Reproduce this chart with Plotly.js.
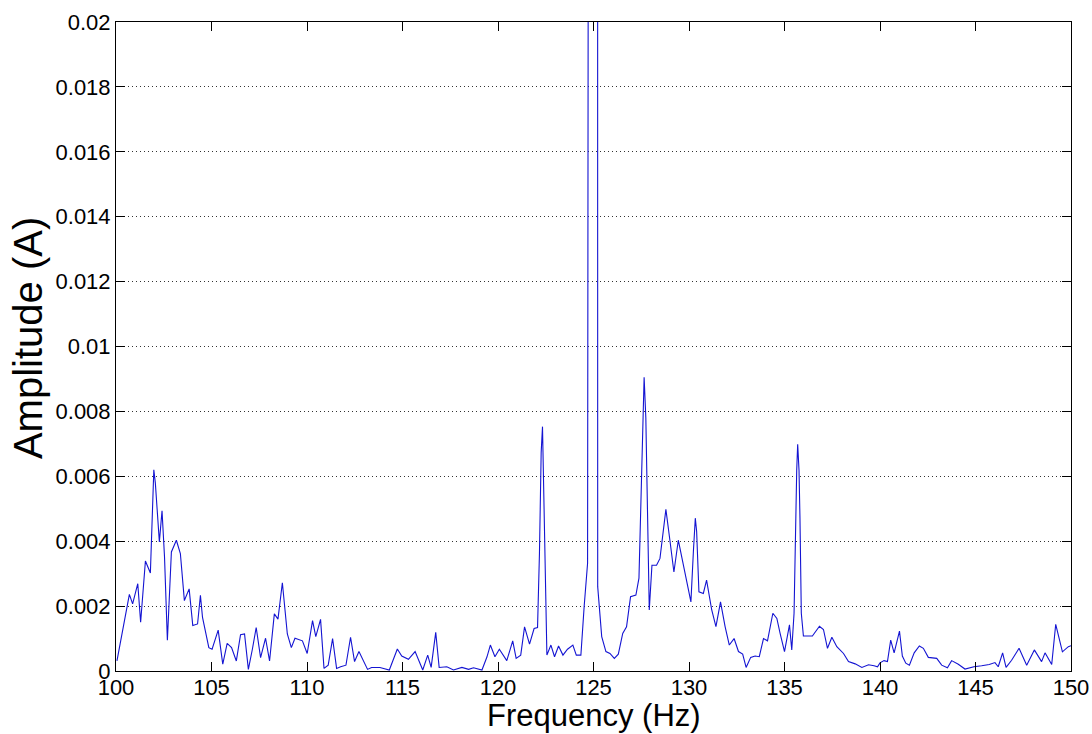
<!DOCTYPE html>
<html>
<head>
<meta charset="utf-8">
<script src="https://cdn.plot.ly/plotly-3.0.1.min.js"></script>
<style>html,body{margin:0;padding:0;background:#fff;}#chart{width:1092px;height:734px;}</style>
</head>
<body>
<div id="chart"></div>
<script>
// Frequency (Hz) of each vertex of the spectrum
const frequency = [
  100.05,100.58,100.70,100.87,101.14,101.29,101.54,101.80,101.98,102.06,
  102.27,102.41,102.54,102.69,102.90,103.16,103.37,103.58,103.83,104.02,
  104.27,104.42,104.53,104.86,105.03,105.35,105.59,105.82,106.05,106.30,
  106.52,106.73,106.93,107.14,107.34,107.57,107.83,108.04,108.29,108.48,
  108.71,108.97,109.18,109.37,109.76,
  110.01,110.29,110.46,110.71,110.89,111.11,111.34,111.55,111.76,112.04,
  112.28,112.49,112.72,113.17,113.38,113.82,114.31,114.73,114.96,115.31,
  115.66,116.06,116.32,116.50,116.74,116.92,117.32,117.67,118.11,118.46,
  118.72,119.16,119.42,119.60,
  119.84,120.07,120.46,120.77,120.95,121.19,121.39,121.65,121.89,122.07,
  122.17,122.26,122.33,122.38,122.47,122.56,122.77,122.96,123.17,123.40,
  123.64,123.92,124.10,124.34,124.51,124.69,124.79,125.21,125.22,125.43,
  125.65,125.86,126.09,126.30,126.53,126.73,126.94,127.22,127.38,127.53,
  127.60,127.65,127.74,127.83,127.92,128.06,128.30,128.48,128.65,128.79,
  129.00,129.21,129.44,
  129.74,130.10,130.23,130.33,130.40,130.52,130.75,130.92,131.19,131.41,
  131.65,131.89,132.11,132.36,132.59,132.81,132.99,133.23,133.46,133.68,
  133.90,134.11,134.39,134.60,134.77,135.00,135.26,135.38,135.50,135.57,
  135.64,135.69,135.76,135.81,135.88,135.99,136.46,136.83,137.04,137.25,
  137.48,137.74,138.09,138.35,138.70,139.05,139.40,
  139.69,139.87,140.00,140.21,140.39,140.56,140.74,140.88,141.02,141.17,
  141.35,141.54,141.79,142.06,142.27,142.53,142.97,143.23,143.53,143.75,
  144.10,144.45,144.71,144.92,145.32,145.72,146.02,146.19,146.42,146.60,
  146.89,147.28,147.68,148.08,148.25,148.46,148.64,148.99,149.20,149.30,
  149.55,149.86,150.00
];
// Amplitude (A) of each vertex
const amplitude = [
  0.00031,0.00207,0.00236,0.00207,0.00269,0.00150,0.00339,0.00302,0.00620,0.00579,
  0.00398,0.00494,0.00352,0.00095,0.00367,0.00403,0.00362,0.00217,0.00253,0.00140,
  0.00145,0.00233,0.00165,0.00072,0.00067,0.00126,0.00021,0.00085,0.00072,0.00031,
  0.00112,0.00114,0.00005,0.00067,0.00134,0.00041,0.00101,0.00031,0.00176,0.00160,
  0.00272,0.00114,0.00072,0.00101,0.00093,
  0.00054,0.00155,0.00106,0.00159,0.00008,0.00018,0.00100,0.00008,0.00013,0.00018,
  0.00104,0.00029,0.00060,0.00005,0.00011,0.00011,0.00003,0.00068,0.00046,0.00036,
  0.00060,0.00003,0.00049,0.00011,0.00119,0.00011,0.00013,0.00003,0.00011,0.00005,
  0.00010,0.00003,0.00043,0.00080,
  0.00044,0.00067,0.00032,0.00093,0.00039,0.00049,0.00136,0.00083,0.00131,0.00134,
  0.00362,0.00673,0.00753,0.00609,0.00260,0.00049,0.00080,0.00044,0.00077,0.00049,
  0.00067,0.00080,0.00049,0.00049,0.00198,0.00332,0.06000,0.06000,0.00260,0.00106,
  0.00060,0.00054,0.00039,0.00052,0.00116,0.00136,0.00229,0.00234,0.00286,0.00671,
  0.00830,0.00905,0.00780,0.00455,0.00188,0.00326,0.00326,0.00347,0.00434,0.00498,
  0.00403,0.00305,0.00403,
  0.00320,0.00213,0.00368,0.00471,0.00430,0.00244,0.00239,0.00280,0.00188,0.00137,
  0.00213,0.00137,0.00080,0.00100,0.00060,0.00052,0.00011,0.00042,0.00046,0.00044,
  0.00100,0.00093,0.00178,0.00162,0.00116,0.00060,0.00142,0.00065,0.00178,0.00455,
  0.00619,0.00699,0.00619,0.00471,0.00178,0.00108,0.00108,0.00138,0.00128,0.00070,
  0.00104,0.00075,0.00054,0.00029,0.00022,0.00011,0.00019,
  0.00016,0.00013,0.00025,0.00032,0.00029,0.00095,0.00056,0.00093,0.00123,0.00046,
  0.00024,0.00018,0.00056,0.00077,0.00070,0.00042,0.00039,0.00018,0.00010,0.00032,
  0.00021,0.00006,0.00011,0.00013,0.00016,0.00020,0.00026,0.00013,0.00056,0.00011,
  0.00033,0.00070,0.00018,0.00065,0.00049,0.00029,0.00056,0.00020,0.00144,0.00121,
  0.00059,0.00075,0.00078
];
const xTickVals = [100,105,110,115,120,125,130,135,140,145,150];
const xTickText = ["100","105","110","115","120","125","130","135","140","145","150"];
const yTickVals = [0,0.002,0.004,0.006,0.008,0.01,0.012,0.014,0.016,0.018,0.02];
const yTickText = ["0","0.002","0.004","0.006","0.008","0.01","0.012","0.014","0.016","0.018","0.02"];
const xTitle = "Frequency (Hz)";
const yTitle = "Amplitude (A)";

const font = {family: "Liberation Sans, Arial, sans-serif", color: "#000"};

Plotly.newPlot("chart", [{
  x: frequency, y: amplitude, type: "scatter", mode: "lines",
  line: {color: "#1414d2", width: 1.1}, hoverinfo: "x+y"
}], {
  width: 1092, height: 734,
  margin: {l: 116, r: 21, t: 22, b: 63},
  paper_bgcolor: "#fff", plot_bgcolor: "#fff",
  showlegend: false,
  font: Object.assign({size: 22}, font),
  xaxis: {
    range: [100, 150], tickvals: xTickVals, ticktext: xTickText,
    ticks: "inside", ticklen: 9, tickcolor: "#000", tickwidth: 1,
    showline: true, linecolor: "#000", linewidth: 1, mirror: "ticks",
    showgrid: false, zeroline: false, ticklabelstandoff: -3,
    tickfont: Object.assign({size: 22}, font)
  },
  yaxis: {
    range: [0, 0.02], tickvals: yTickVals, ticktext: yTickText,
    ticks: "inside", ticklen: 9, tickcolor: "#000", tickwidth: 1,
    showline: true, linecolor: "#000", linewidth: 1, mirror: "ticks",
    showgrid: true, gridcolor: "#333", griddash: "1px,3px", gridwidth: 1,
    zeroline: false,
    tickfont: Object.assign({size: 22}, font)
  },
  annotations: [
    {text: xTitle, xref: "paper", yref: "paper", x: 0.5, y: 0,
     xanchor: "center", yanchor: "top", yshift: -25, showarrow: false,
     font: Object.assign({size: 31}, font)},
    {text: yTitle, xref: "paper", yref: "paper", x: 0, y: 0.513,
     xanchor: "center", yanchor: "middle", xshift: -88, textangle: -90, showarrow: false,
     font: Object.assign({size: 40}, font)}
  ]
}, {displayModeBar: false, staticPlot: true});
</script>
</body>
</html>
